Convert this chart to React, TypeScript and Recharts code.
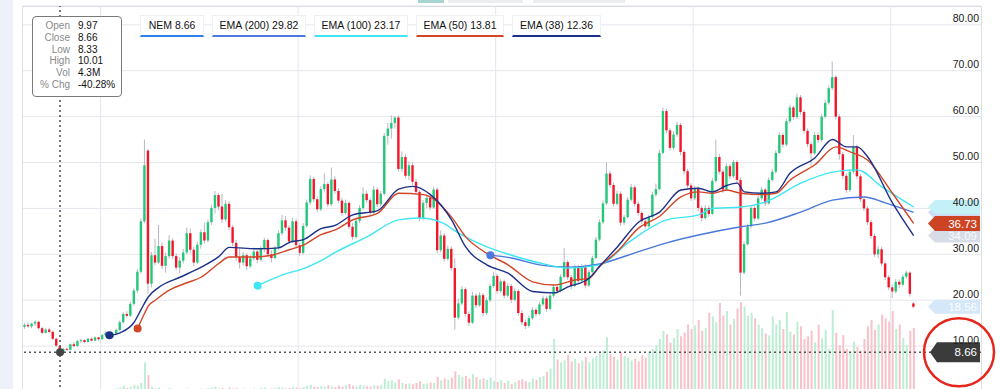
import React from "react";
import {
  Bar,
  CartesianGrid,
  Cell,
  ComposedChart,
  Line,
  ReferenceDot,
  ReferenceLine,
  XAxis,
  YAxis,
} from "recharts";

const FONT = '"Liberation Sans", Arial, Helvetica, sans-serif';

// [open, high, low, close] per session
const OHLC: [number, number, number, number][] = [
  // 0-9
  [14.2,15.0,13.8,14.6],[14.6,15.2,14.0,14.3],[14.3,15.1,13.9,14.9],[14.9,15.6,14.4,15.3],[15.3,15.5,13.6,13.9],[13.9,14.2,12.6,12.9],[12.9,13.9,12.7,13.6],[13.6,14.0,12.8,13.1],[13.1,13.4,11.3,11.6],[11.6,11.8,9.8,10.1],
  // 10-19
  [9.97,10.01,8.33,8.66],[8.7,9.6,8.5,9.4],[9.4,9.7,9.0,9.2],[9.2,10.6,9.1,10.4],[10.4,10.9,9.8,10.0],[10.0,11.3,9.9,11.1],[11.1,11.6,10.7,11.3],[11.3,11.5,10.6,10.9],[10.9,11.8,10.8,11.6],[11.6,11.9,11.0,11.2],
  // 20-29
  [11.2,12.1,11.1,11.9],[11.9,12.0,11.2,11.5],[11.5,12.6,11.4,12.4],[12.4,13.3,12.1,12.9],[12.9,13.1,11.6,12.0],[12.0,13.0,11.8,12.7],[12.7,13.8,12.5,13.5],[13.5,15.6,13.3,15.2],[15.2,17.4,14.9,17.0],[17.0,17.6,16.2,16.6],
  // 30-39
  [16.6,19.6,16.4,19.2],[19.2,22.6,18.8,22.1],[22.1,26.8,21.5,26.2],[26.2,37.8,25.8,37.2],[37.2,55.0,36.8,49.4],[52.6,53.0,21.4,23.6],[23.6,30.5,22.8,29.8],[29.8,33.4,27.6,28.2],[28.2,36.4,27.9,31.8],[31.8,32.6,26.8,27.5],
  // 40-49
  [27.5,30.4,26.0,29.6],[29.6,34.2,29.1,33.0],[33.0,33.5,29.0,29.6],[29.6,30.2,26.5,27.1],[27.1,29.4,25.8,28.6],[28.6,31.2,28.0,30.4],[30.4,35.8,30.0,34.6],[34.6,35.6,30.2,31.0],[31.0,31.6,27.4,28.2],[28.2,32.8,27.9,32.1],
  // 50-59
  [32.1,35.4,31.2,34.8],[34.8,36.9,32.3,33.0],[33.0,37.6,32.6,37.0],[37.0,40.8,36.4,40.1],[40.1,43.8,38.9,42.9],[42.9,43.4,39.6,40.4],[40.4,43.2,36.8,37.6],[37.6,41.8,37.1,41.0],[41.0,41.6,35.2,35.9],[35.9,36.4,31.8,32.5],
  // 60-69
  [32.5,33.1,28.6,29.4],[29.4,31.2,26.9,28.2],[28.2,30.5,27.6,29.8],[29.8,30.2,26.6,27.4],[27.4,29.8,27.0,29.1],[29.1,31.5,28.7,30.6],[30.6,31.0,28.1,28.8],[28.8,31.8,28.4,31.2],[31.2,33.6,30.5,33.1],[33.1,33.5,29.4,30.0],
  // 70-79
  [30.0,30.9,28.3,29.2],[29.2,31.8,28.9,31.4],[31.4,35.2,31.0,34.6],[34.6,38.6,34.1,37.4],[37.4,38.3,35.2,35.8],[35.8,36.3,32.2,32.8],[32.8,38.0,32.5,37.2],[37.2,37.8,31.4,32.0],[32.0,32.4,29.6,30.3],[30.3,36.8,30.0,36.2],
  // 80-89
  [36.2,41.9,35.8,41.3],[41.3,47.2,40.8,46.4],[46.4,46.9,41.4,42.0],[42.0,42.6,39.2,39.8],[39.8,44.8,39.4,44.2],[44.2,47.6,43.5,45.3],[45.3,45.8,40.3,40.9],[40.9,48.9,40.5,46.3],[46.3,47.0,43.2,43.8],[43.8,44.4,41.2,41.7],
  // 90-99
  [41.7,42.3,38.4,39.0],[39.0,41.9,38.6,41.2],[41.2,41.6,35.4,36.0],[36.0,36.8,33.1,33.8],[33.8,37.9,33.4,37.3],[37.3,40.7,36.8,40.1],[40.1,44.6,39.7,43.2],[43.2,43.9,41.2,41.8],[41.8,42.3,38.4,39.0],[39.0,44.9,38.7,44.1],
  // 100-109
  [44.1,44.6,40.3,40.9],[40.9,43.8,40.4,43.2],[43.2,56.4,42.8,55.8],[55.8,58.6,53.9,57.4],[57.4,60.3,55.2,58.6],[58.6,60.1,57.4,59.8],[59.8,60.3,48.0,48.6],[48.6,52.4,47.9,51.2],[51.2,51.8,46.5,47.1],[47.1,50.2,46.2,49.4],
  // 110-119
  [49.4,50.0,45.1,45.8],[45.8,46.4,43.0,43.6],[43.6,44.1,37.2,37.9],[37.9,41.8,37.4,41.2],[41.2,43.0,40.1,42.3],[42.3,43.1,39.6,40.2],[40.2,44.7,39.9,44.1],[44.1,44.6,30.2,30.9],[30.9,35.2,30.4,34.1],[34.1,34.6,28.4,29.0],
  // 120-129
  [29.0,31.9,28.6,31.2],[31.2,31.7,26.4,27.0],[27.0,29.1,13.6,16.2],[16.2,20.4,15.8,19.3],[19.3,23.1,18.9,22.4],[22.4,22.8,16.4,17.0],[17.0,17.6,14.4,15.1],[15.1,21.8,14.8,21.0],[21.0,21.5,18.3,18.9],[18.9,21.7,18.5,21.1],
  // 130-139
  [21.1,21.6,16.5,17.2],[17.2,20.6,16.8,20.0],[20.0,23.6,19.6,23.1],[23.1,26.2,22.7,25.3],[25.3,25.8,21.4,22.0],[22.0,24.6,21.6,24.1],[24.1,24.5,20.4,21.0],[21.0,23.7,20.6,23.1],[23.1,23.5,19.4,20.1],[20.1,22.6,19.7,22.0],
  // 140-149
  [22.0,22.4,16.6,17.2],[17.2,17.8,14.6,15.2],[15.2,15.8,13.7,14.4],[14.4,16.7,14.0,16.1],[16.1,18.5,15.7,17.9],[17.9,18.3,16.4,17.0],[17.0,19.6,16.7,19.1],[19.1,21.0,18.7,20.4],[20.4,20.8,17.5,18.1],[18.1,21.6,17.8,21.0],
  // 150-159
  [21.0,23.5,20.6,22.9],[22.9,23.3,21.4,22.0],[22.0,25.7,21.7,25.1],[25.1,31.4,24.8,28.3],[28.3,28.8,24.4,25.0],[25.0,25.5,22.4,23.1],[23.1,27.8,22.8,27.2],[27.2,27.7,23.6,24.2],[24.2,27.9,23.8,27.3],[27.3,27.8,22.6,23.2],
  // 160-169
  [23.2,26.6,22.9,26.1],[26.1,29.7,25.8,29.2],[29.2,33.8,28.9,33.2],[33.2,37.6,32.8,37.0],[37.0,41.7,36.6,41.1],[41.1,50.0,40.7,47.6],[47.6,48.2,44.5,45.1],[45.1,45.6,40.4,41.0],[41.0,43.8,40.6,43.2],[43.2,43.7,36.2,36.9],
  // 170-179
  [36.9,38.6,36.4,38.1],[38.1,42.5,37.8,41.9],[41.9,45.3,41.5,44.6],[44.6,45.1,40.4,41.0],[41.0,41.6,38.4,39.0],[39.0,39.5,36.6,37.2],[37.2,37.7,35.6,36.1],[36.1,38.6,35.8,38.1],[38.1,43.6,37.8,43.0],[43.0,45.4,42.6,44.2],
  // 180-189
  [44.2,52.8,43.9,52.1],[52.1,62.0,51.8,61.2],[61.2,61.7,56.4,57.0],[57.0,57.5,52.6,53.2],[53.2,56.8,52.8,56.1],[56.1,58.9,55.6,58.2],[58.2,58.6,51.6,52.3],[52.3,52.8,47.4,48.1],[48.1,48.6,44.4,45.0],[45.0,45.5,41.6,42.2],
  // 190-199
  [42.2,44.9,41.8,44.3],[44.3,44.8,39.4,40.1],[40.1,40.6,37.2,37.9],[37.9,40.7,37.5,40.1],[40.1,40.6,38.2,38.8],[38.8,46.6,38.5,46.0],[46.0,55.0,45.6,51.2],[51.2,51.8,47.4,48.0],[48.0,48.5,43.4,44.1],[44.1,49.8,43.8,49.2],
  // 200-209
  [49.2,49.7,46.4,47.0],[47.0,50.6,46.6,50.1],[50.1,50.5,45.5,46.2],[46.2,46.7,21.0,26.0],[26.0,32.8,25.6,32.2],[32.2,36.7,31.9,36.1],[36.1,40.6,35.7,40.1],[40.1,40.5,37.2,37.8],[37.8,42.8,37.5,42.2],[42.2,44.7,41.8,44.1],
  // 210-219
  [44.1,44.5,40.5,41.1],[41.1,46.8,40.8,46.2],[46.2,48.6,45.8,48.0],[48.0,52.7,47.6,52.1],[52.1,56.6,51.8,56.0],[56.0,56.5,53.3,53.9],[53.9,59.6,53.5,59.0],[59.0,62.6,58.6,62.0],[62.0,62.4,59.3,59.9],[59.9,65.0,59.5,64.2],
  // 220-229
  [64.2,64.7,60.4,61.0],[61.0,61.5,56.3,56.9],[56.9,57.4,53.4,54.0],[54.0,54.5,49.3,52.0],[52.0,56.6,51.6,56.0],[56.0,56.5,54.3,54.9],[54.9,60.6,54.5,60.0],[60.0,63.6,59.6,63.0],[63.0,66.8,62.6,66.2],[66.2,72.0,65.8,68.6],
  // 230-239
  [68.6,69.0,59.4,60.0],[60.0,60.5,50.6,51.8],[51.8,52.3,46.4,47.1],[47.1,47.6,43.4,44.0],[44.0,48.6,43.6,48.0],[48.0,56.0,47.6,53.4],[53.4,53.9,46.4,47.0],[47.0,47.5,41.4,42.0],[42.0,42.5,39.4,40.0],[40.0,40.5,36.4,37.0],
  // 240-249
  [37.0,37.5,33.4,34.0],[34.0,34.5,29.4,30.0],[30.0,31.8,29.2,31.1],[31.1,31.6,27.4,28.0],[28.0,28.5,24.4,25.0],[25.0,25.5,22.2,22.8],[22.8,23.4,20.5,21.9],[21.9,24.6,21.5,24.0],[24.0,24.5,22.6,23.4],[23.4,25.6,23.0,25.1],
  // 250-252
  [25.1,26.4,24.7,26.0],[26.0,26.3,20.8,21.4],[19.3,19.6,18.3,18.56],
];

// volume, millions
const VOLUME = [
  4,3,5,4,6,5,3,4,6,5,
  4.3,3,4,3,5,4,3,4,5,3,
  4,3,5,4,6,7,8,10,14,9,
  12,16,14,20,66,38,
  12,8,10,7,6,9,7,6,5,7,8,6,7,6,
  8,7,9,10,12,8,9,7,10,8,
  9,7,8,6,7,8,6,9,10,7,
  8,9,11,10,8,9,12,10,9,11,
  14,16,12,11,13,12,15,13,11,14,
  12,15,18,14,13,16,14,13,12,15,
  14,16,30,24,26,22,28,20,18,19,
  17,20,24,18,19,21,20,34,26,30,
  27,32,46,38,34,36,30,40,33,28,
  30,27,32,24,22,26,20,25,18,22,
  26,28,24,22,30,27,33,36,45,52,
  118,72,66,70,82,68,74,64,70,78,
  66,74,80,86,92,122,84,78,72,88,
  80,76,70,74,68,82,76,90,96,104,
  118,136,128,110,120,140,124,132,150,140,
  148,160,136,142,176,168,155,198,170,180,
  150,162,186,200,190,170,176,164,150,142,
  130,126,168,150,160,140,178,134,128,156,
  146,118,124,136,110,150,120,138,96,182,
  132,104,126,96,88,112,100,92,118,146,
  160,138,150,172,164,156,180,140,150,120,
  104,136,142,
];

// moving averages as [session index, value]
const EMA38: [number, number][] = [
  [24,12.36],[27,12.9],[31,15.2],[33,18],[35,20.7],[38,22.8],[44,25],[50,27.2],[55,29.5],[58,31.5],
  [66,31.2],[72,31.4],[75,32.6],[79,33.2],[84,35.6],[88,36.3],[93,38.6],[100,39.5],[106,44.2],[110,44.8],
  [115,43],[121,37.5],[125,31.6],[131,27.7],[137,25.9],[144,21.9],[150,21.6],[154,22.9],[160,24.8],[163,27.4],
  [168,31.6],[174,37],[180,39.2],[186,44],[191,44.4],[195,43.6],[199,45],[202,45.5],[204,43.6],[209,43.3],
  [213,43.6],[217,47.7],[224,51],[229,55],[233,53.4],[236,53.4],[239,51.2],[246,41.2],[252,34.09],
];
const EMA50: [number, number][] = [
  [32,13.81],[34,17.2],[35,18.7],[37,20],[41,22.2],[46,23.8],[50,25],[55,28],[58,29.4],[64,29.4],
  [70,29.8],[75,31],[79,32],[84,34.3],[88,35.3],[93,37.5],[100,38.9],[106,43.3],[113,43],[121,38.1],
  [125,33.8],[131,30.2],[137,27.7],[144,24],[150,23.3],[156,24.4],[160,24.8],[163,27.4],[168,30.6],[174,35.7],
  [180,38.3],[186,42.5],[191,43.6],[195,43.3],[199,44],[203,43.3],[209,43],[213,43.3],[217,46.2],[224,49.5],
  [230,53.4],[234,52.3],[239,50.5],[246,43.3],[252,36.73],
];
const EMA100: [number, number][] = [
  [66,23.17],[75,26],[78,26.6],[84,28.6],[88,30.4],[97,33.8],[106,37.5],[112,37.9],[118,37],[123,34.6],
  [131,31.6],[138,29.8],[146,28.1],[154,27],[163,27.7],[171,32.5],[182,37.5],[191,38.6],[195,40],[203,40.3],
  [210,41.4],[220,45.5],[229,47.9],[236,48.4],[243,44.7],[252,40.31],
];
const EMA200: [number, number][] = [
  [132,29.82],[138,29.2],[146,27.7],[154,27.2],[163,27.9],[171,29.8],[182,32.5],[191,34.2],[203,36],[210,36.8],
  [220,39.2],[229,41.8],[238,42.5],[244,41.2],[252,39.12],
];

const PRICE_TICKS = [0, 10, 20, 30, 40, 50, 60, 70, 80];
const YEAR_BREAKS = [22, 78, 134, 190, 246];
const CROSS = 10; // hovered session
const PCT_CHG = "-40.28%";

const X_SPAN = 271.6;
const UP = "#22c878";
const DOWN = "#f2162b";
const WICK = "#b7b8c2";
const VOL_UP = "#bdeed5";
const VOL_DOWN = "#f9c1ca";
const GRID = "#e5e6ec";

const SERIES = [
  { key: "e200", label: "EMA (200)", knots: EMA200, color: "#4a78dc", tag: "#cfdcf4", showTag: false },
  { key: "e100", label: "EMA (100)", knots: EMA100, color: "#3ee6f4", tag: "#c4f1f8", showTag: false },
  { key: "e50", label: "EMA (50)", knots: EMA50, color: "#d24526", tag: "#cd4424", showTag: true },
  { key: "e38", label: "EMA (38)", knots: EMA38, color: "#1d3088", tag: "#d8dce7", showTag: true },
];

const rows: any[] = OHLC.map(([o, h, l, c], i) => ({
  i,
  x: i + 0.5,
  o,
  h,
  l,
  c,
  range: [l, h],
  vol: VOLUME[i],
  up: c >= o,
}));
SERIES.forEach((s) => s.knots.forEach(([i, v]) => (rows[i][s.key] = v)));

function Candle(props: any) {
  const { x, y, width, height, payload } = props;
  if (!payload || x == null) return <g />;
  const { o, h, l, c } = payload;
  const top = Math.min(y, y + height);
  const span = Math.abs(height);
  const k = span / (h - l || 1);
  const bTop = top + (h - Math.max(o, c)) * k;
  const bBot = top + (h - Math.min(o, c)) * k;
  const cx = x + width / 2;
  return (
    <g>
      <line x1={cx} x2={cx} y1={top} y2={top + span} stroke={WICK} strokeWidth={1} />
      <rect
        x={cx - 1.2}
        y={bTop}
        width={2.4}
        height={Math.max(1, bBot - bTop)}
        fill={c >= o ? UP : DOWN}
      />
    </g>
  );
}

function PriceTick(props: any) {
  const { x, y, payload } = props;
  return (
    <text
      x={x}
      y={y - 6}
      dy="0.35em"
      textAnchor="end"
      fontSize={10.5}
      fill="#1a1a1a"
      fontFamily={FONT}
    >
      {Number(payload.value).toFixed(2)}
    </text>
  );
}

function Tag(props: any) {
  const { viewBox, text, fill, color, h = 14, ring = false, w = 52 } = props;
  if (!viewBox) return null;
  const right = viewBox.x + viewBox.width - 1;
  const left = right - w;
  const yc = viewBox.y;
  const pts = `${left},${yc} ${left + 7},${yc - h / 2} ${right},${yc - h / 2} ${right},${yc + h / 2} ${left + 7},${yc + h / 2}`;
  return (
    <g>
      <polygon points={pts} fill={fill} />
      {text && (
        <text
          x={right - 3}
          y={yc}
          dy="0.36em"
          textAnchor="end"
          fontSize={11.5}
          fill={color}
          fontFamily={FONT}
        >
          {text}
        </text>
      )}
      {ring && (
        <ellipse
          cx={right - 21}
          cy={yc}
          rx={35}
          ry={34}
          fill="none"
          stroke="#e4261c"
          strokeWidth={2.5}
        />
      )}
    </g>
  );
}

function startDot(color: string, first: number) {
  return (p: any) =>
    p.payload && p.payload.i === first && p.cx != null ? (
      <circle key={`d${p.index}`} cx={p.cx} cy={p.cy} r={4} fill={color} />
    ) : (
      <g key={`d${p.index}`} />
    );
}

const LEGEND_W = [62, 92, 92, 86, 87];

export default function App() {
  const [co, ch, cl, cc] = OHLC[CROSS];
  const last = OHLC[OHLC.length - 1][3];
  const legend = [
    { label: `NEM ${cc.toFixed(2)}`, color: "#2b80ea" },
    ...SERIES.map((s) => ({ label: `${s.label} ${s.knots[0][1].toFixed(2)}`, color: s.color })),
  ];
  const tipRows: [string, string][] = [
    ["Open", co.toFixed(2)],
    ["Close", cc.toFixed(2)],
    ["Low", cl.toFixed(2)],
    ["High", ch.toFixed(2)],
    ["Vol", `${VOLUME[CROSS]}M`],
    ["% Chg", PCT_CHG],
  ];
  // draw the red EMA (50) tag last so it sits on top
  const tagOrder = [...SERIES].sort((a, b) => (a.key === "e50" ? 1 : b.key === "e50" ? -1 : 0));

  return (
    <div
      style={{
        position: "fixed",
        left: 0,
        top: 0,
        width: 1000,
        height: 389,
        overflow: "hidden",
        background: "#fff",
        fontFamily: FONT,
      }}
    >
      <div style={{ position: "absolute", left: 0, top: 0, width: 13, height: 389, background: "#eef1f7" }} />
      <div style={{ position: "absolute", left: 418, top: 0, width: 26, height: 3, background: "#a8d5d1" }} />
      <div style={{ position: "absolute", left: 448, top: 0, width: 75, height: 3, background: "#eceef2" }} />
      <div style={{ position: "absolute", left: 533, top: 0, width: 92, height: 3, background: "#eceef2" }} />
      <div
        style={{
          position: "absolute",
          left: 22,
          top: 6,
          width: 958,
          height: 400,
          borderTop: "1px solid #cdd0d8",
          borderLeft: "1px solid #dfe0e6",
          borderRight: "1px solid #dfe0e6",
        }}
      />
      <div style={{ position: "absolute", left: 0, top: 0 }}>
        <ComposedChart
          width={1000}
          height={400}
          data={rows}
          margin={{ top: 6, right: 19, bottom: 8, left: 23 }}
        >
          <CartesianGrid xAxisId="px" yAxisId="p" vertical={false} stroke={GRID} />
          <XAxis xAxisId="px" dataKey="x" type="number" domain={[0, X_SPAN]} allowDataOverflow hide />
          <XAxis xAxisId="vx" dataKey="x" type="number" domain={[0, X_SPAN]} allowDataOverflow hide />
          <YAxis
            yAxisId="p"
            orientation="right"
            mirror
            domain={[0, 84.1]}
            allowDataOverflow
            ticks={PRICE_TICKS}
            tickSize={0}
            tickMargin={2}
            axisLine={false}
            tickLine={false}
            tick={<PriceTick />}
          />
          <YAxis yAxisId="v" hide domain={[0, 858]} allowDataOverflow />
          {YEAR_BREAKS.map((b) => (
            <ReferenceLine key={b} xAxisId="px" yAxisId="p" x={b} stroke={GRID} />
          ))}
          <Bar xAxisId="vx" yAxisId="v" dataKey="vol" barSize={2} isAnimationActive={false}>
            {rows.map((r) => (
              <Cell key={r.i} fill={r.up ? VOL_UP : VOL_DOWN} />
            ))}
          </Bar>
          <Bar
            xAxisId="px"
            yAxisId="p"
            dataKey="range"
            barSize={3}
            shape={<Candle />}
            isAnimationActive={false}
          />
          {SERIES.map((s) => (
            <Line
              key={s.key}
              xAxisId="px"
              yAxisId="p"
              type="monotone"
              dataKey={s.key}
              stroke={s.color}
              strokeWidth={1.4}
              connectNulls
              dot={startDot(s.color, s.knots[0][0])}
              activeDot={false}
              isAnimationActive={false}
            />
          ))}
          <ReferenceLine
            xAxisId="px"
            yAxisId="p"
            x={CROSS + 0.5}
            stroke="#555"
            strokeWidth={1.6}
            strokeDasharray="2 3"
          />
          {tagOrder.map((s) => {
            const v = s.knots[s.knots.length - 1][1];
            const strong = s.key === "e50";
            return (
              <ReferenceLine
                key={`t${s.key}`}
                xAxisId="px"
                yAxisId="p"
                y={v}
                stroke="transparent"
                label={
                  <Tag
                    text={s.showTag ? v.toFixed(2) : ""}
                    fill={s.tag}
                    color={strong ? "#fff" : "rgba(255,255,255,0.85)"}
                    h={strong ? 15 : 14}
                  />
                }
              />
            );
          })}
          <ReferenceLine
            xAxisId="px"
            yAxisId="p"
            y={last}
            stroke="transparent"
            label={<Tag text={last.toFixed(2)} fill="#d5e8fa" color="rgba(255,255,255,0.9)" />}
          />
          <ReferenceLine
            xAxisId="px"
            yAxisId="p"
            y={cc}
            stroke="#555"
            strokeWidth={1.6}
            strokeDasharray="2 3"
            label={<Tag text={cc.toFixed(2)} fill="#3b3b3b" color="#fff" h={20} w={50} ring />}
          />
          <ReferenceDot xAxisId="px" yAxisId="p" x={CROSS + 0.5} y={cc} r={4} fill="#444" stroke="none" />
        </ComposedChart>
      </div>

      <div style={{ position: "absolute", left: 140, top: 15, display: "flex", gap: 8 }}>
        {legend.map((d, i) => (
          <div
            key={d.label}
            style={{
              width: LEGEND_W[i],
              height: 19,
              background: "#fff",
              border: "1px solid #eeeff3",
              borderBottom: `2px solid ${d.color}`,
              fontSize: 10.5,
              color: "#111",
              lineHeight: "19px",
              textAlign: "center",
              whiteSpace: "nowrap",
            }}
          >
            {d.label}
          </div>
        ))}
      </div>

      <div
        style={{
          position: "absolute",
          left: 32,
          top: 16,
          width: 88,
          height: 76,
          background: "#fff",
          border: "1.5px solid #7a7a7a",
          borderRadius: 4,
          paddingTop: 3,
        }}
      >
        {tipRows.map(([k, v]) => (
          <div key={k} style={{ display: "flex", fontSize: 10, lineHeight: "11.8px" }}>
            <span style={{ width: 37, textAlign: "right", color: "#8a8a8a" }}>{k}</span>
            <span style={{ marginLeft: 8, color: "#111" }}>{v}</span>
          </div>
        ))}
      </div>
    </div>
  );
}
